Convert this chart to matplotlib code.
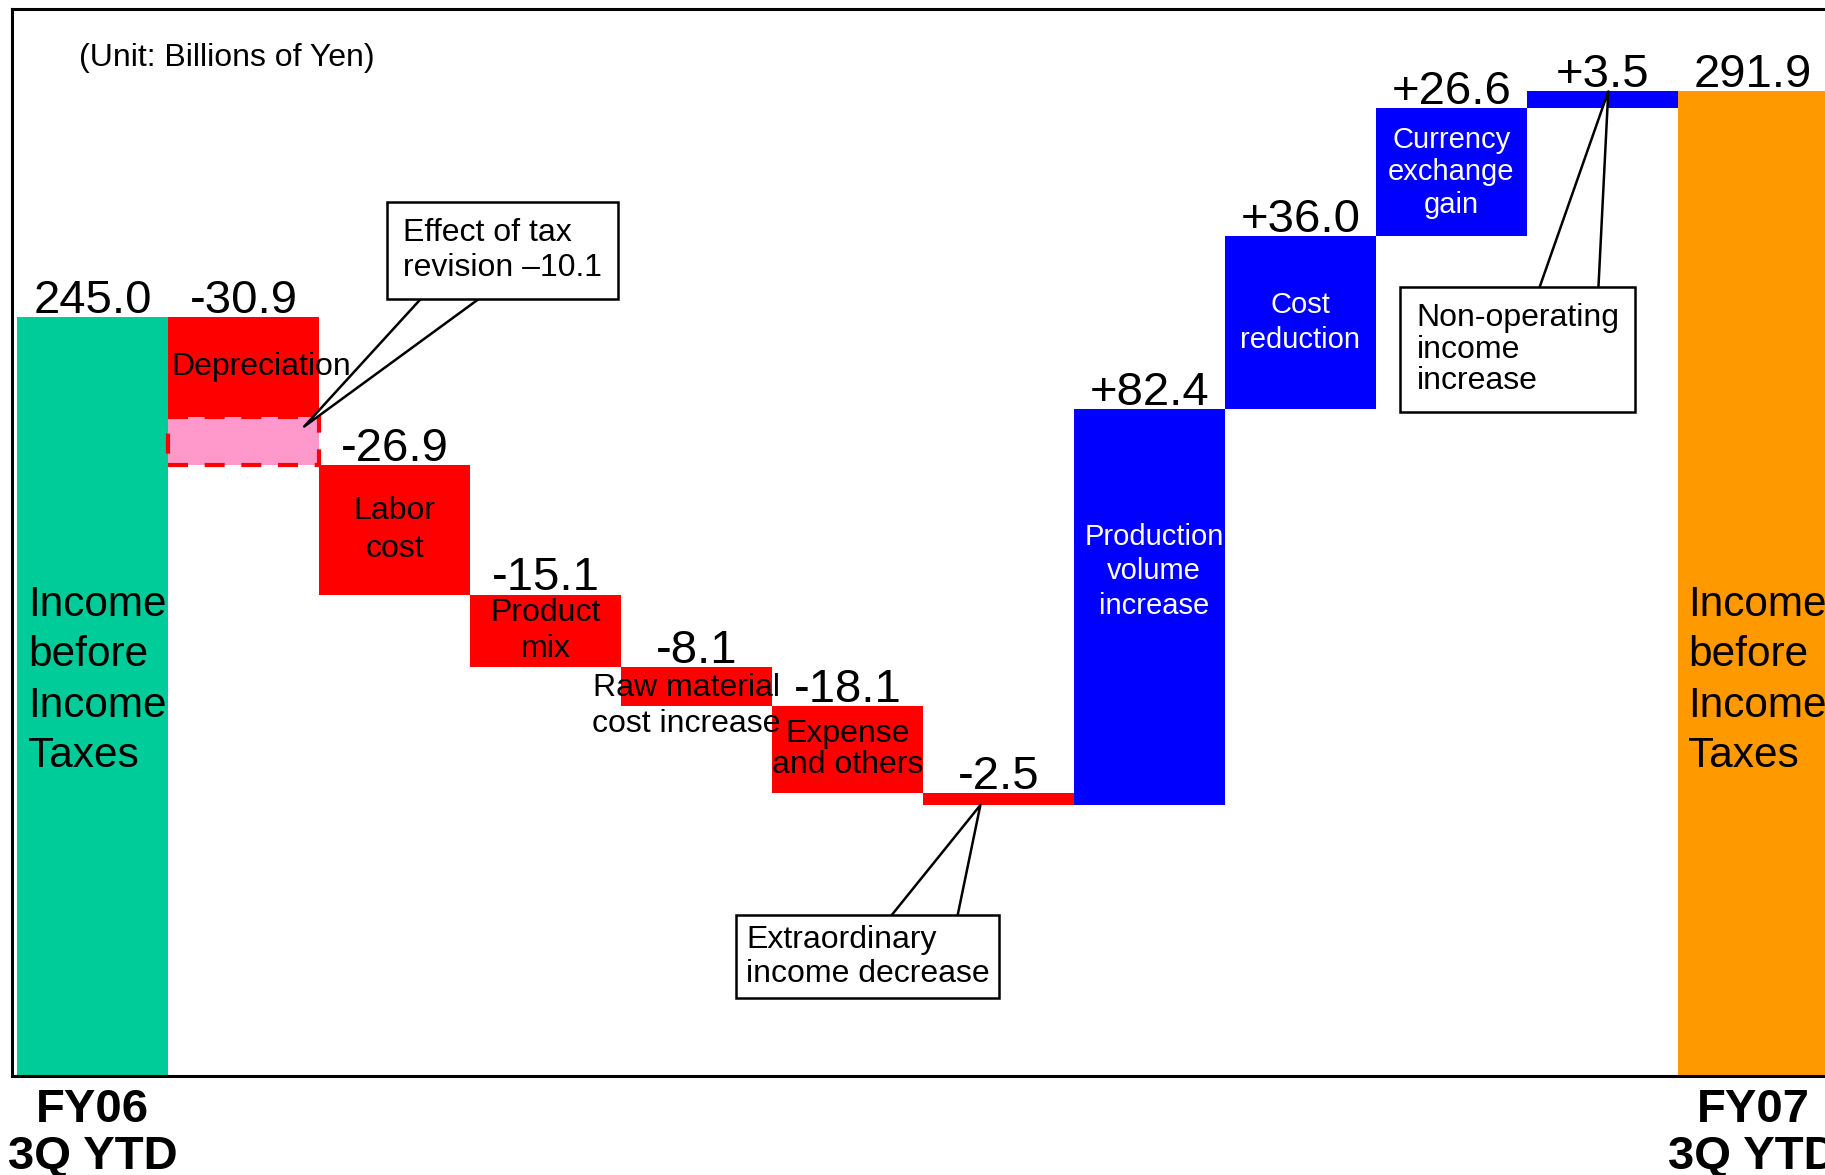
import matplotlib
matplotlib.use('Agg')
import matplotlib.pyplot as plt
import matplotlib.transforms as mtransforms
import numpy as np

plt.rcParams['font.family'] = ['Liberation Sans', 'DejaVu Sans']

# income before income taxes, billions of yen
start_total = 245.0
end_total = 291.9
start_name = 'FY06\n3Q YTD'
end_name = 'FY07\n3Q YTD'
total_text = 'Income\nbefore\nIncome\nTaxes'

# step changes between the two totals
changes = [-30.9, -26.9, -15.1, -8.1, -18.1, -2.5, 82.4, 36.0, 26.6, 3.5]
step_text = ['Depreciation', 'Labor\ncost', 'Product\nmix', 'Raw material\ncost increase',
             'Expense\nand others', '', 'Production\nvolume\nincrease', 'Cost\nreduction',
             'Currency\nexchange\ngain', '']
tax_effect = -10.1   # part of depreciation

GREEN = '#00CC99'
ORANGE = '#FF9900'
RED = '#FF0000'
BLUE = '#0000FF'
PINK = '#FF99CC'

levels = start_total + np.cumsum(changes)
before = np.concatenate([[start_total], levels[:-1]])
lows = np.minimum(before, levels)
highs = np.maximum(before, levels)
step_x = np.arange(1, len(changes) + 1)

fig = plt.figure(figsize=(18.25, 11.75), dpi=100)
ax = fig.add_axes([10 / 1568, 1 - 925 / 1010, 1565 / 1568, 917 / 1010])
ax.set_xlim(-0.5 - 5 / 130, 11.53)
ax.set_ylim(87, 309)
ax.set_xticks([])
ax.set_yticks([])
for s in ax.spines.values():
    s.set_linewidth(2.2)
    s.set_color('black')

mix = mtransforms.blended_transform_factory(ax.transData, ax.transAxes)

# totals
ax.bar(0, start_total, width=1, color=GREEN, zorder=1)
ax.bar(11, end_total, width=1, color=ORANGE, zorder=1)

# steps (depreciation split into its own part and the tax revision part)
bottoms = lows.copy()
heights = highs - lows
bottoms[0] = before[0] + (changes[0] - tax_effect)
heights[0] = -(changes[0] - tax_effect)
colors = [RED if c < 0 else BLUE for c in changes]
ax.bar(step_x, heights, bottom=bottoms, width=1, color=colors, zorder=1)
ax.bar(1, -tax_effect, bottom=levels[0], width=1, facecolor=PINK, edgecolor=RED,
       linewidth=3, linestyle=(0, (4.8, 4)), zorder=1.5)

# value labels
value_kw = dict(textcoords='offset points', xytext=(0, 3), ha='center', va='baseline', fontsize=34)
ax.annotate(f'{start_total:.1f}', (0, start_total), **value_kw)
ax.annotate(f'{end_total:.1f}', (11, end_total), **value_kw)
for x, c, h in zip(step_x, changes, highs):
    ax.annotate(f'{c:+.1f}', (x, h), **value_kw)

# labels inside the step bars: (height fraction, line spacing, x shift)
inside_fmt = {1: (0.5, 1.33, 0), 2: (0.5, 1.29, 0), 3: (0.0, 1.29, -0.07),
              4: (0.5, 1.05, 0), 6: (0.59, 1.3, 0.03), 7: (0.5, 1.3, 0),
              8: (0.5, 1.2, 0)}
for i, (x, txt) in enumerate(zip(step_x, step_text)):
    if not txt:
        continue
    col = 'white' if changes[i] > 0 else 'black'
    size = 21 if changes[i] > 0 else 23
    if i == 0:
        y = bottoms[0] + heights[0] / 2
        ax.text(x - 0.48, y, txt, ha='left', va='center', fontsize=23, color=col)
        continue
    frac, ls, dx = inside_fmt[i]
    y = lows[i] + frac * (highs[i] - lows[i])
    ax.text(x + dx, y, txt, ha='center', va='center', fontsize=size, color=col,
            linespacing=ls)

# totals text
for x in [0, 11]:
    ax.text(x - 0.43, 0.371, total_text, transform=mix, ha='left', va='center',
            fontsize=30.5, linespacing=1.34)
ax.text(0, -0.011, start_name, transform=mix, ha='center', va='top', fontsize=34,
        fontweight='bold', linespacing=1.08, clip_on=False)
ax.text(11, -0.011, end_name, transform=mix, ha='center', va='top', fontsize=34,
        fontweight='bold', linespacing=1.08, clip_on=False)

ax.text(0.037, 0.954, '(Unit: Billions of Yen)', transform=ax.transAxes,
        ha='left', va='center', fontsize=23)

# callouts
def callout(txt, tip, box_xy, rel, pad, tail, ls):
    ax.annotate(txt, xy=tip, xycoords='data', xytext=box_xy, textcoords='axes fraction',
                ha='left', va='center', fontsize=23, linespacing=ls,
                bbox=dict(boxstyle=f'square,pad={pad}', fc='white', ec='black', lw=1.8),
                arrowprops=dict(arrowstyle=f'wedge,tail_width={tail},shrink_factor=0.5',
                                fc='white', ec='black', lw=1.8, relpos=rel,
                                patchA=None, shrinkA=0, shrinkB=0),
                zorder=5)

callout('Effect of tax\nrevision \u201310.1', (1.4, levels[0] - 0.8 * tax_effect),
        (0.2147, 0.7737), (0.40, 0.25), 0.5, 1.5, 1.2)
callout('Extraordinary\nincome decrease', (5.88, lows[5]),
        (0.4032, 0.1118), (0.69, 0.68), 0.3, 2.35, 1.17)
callout('Non-operating\nincome\nincrease', (10.04, highs[9]),
        (0.7712, 0.681), (0.72, 0.77), 0.5, 2.15, 1.07)

fig.savefig('out.png', dpi=100)
